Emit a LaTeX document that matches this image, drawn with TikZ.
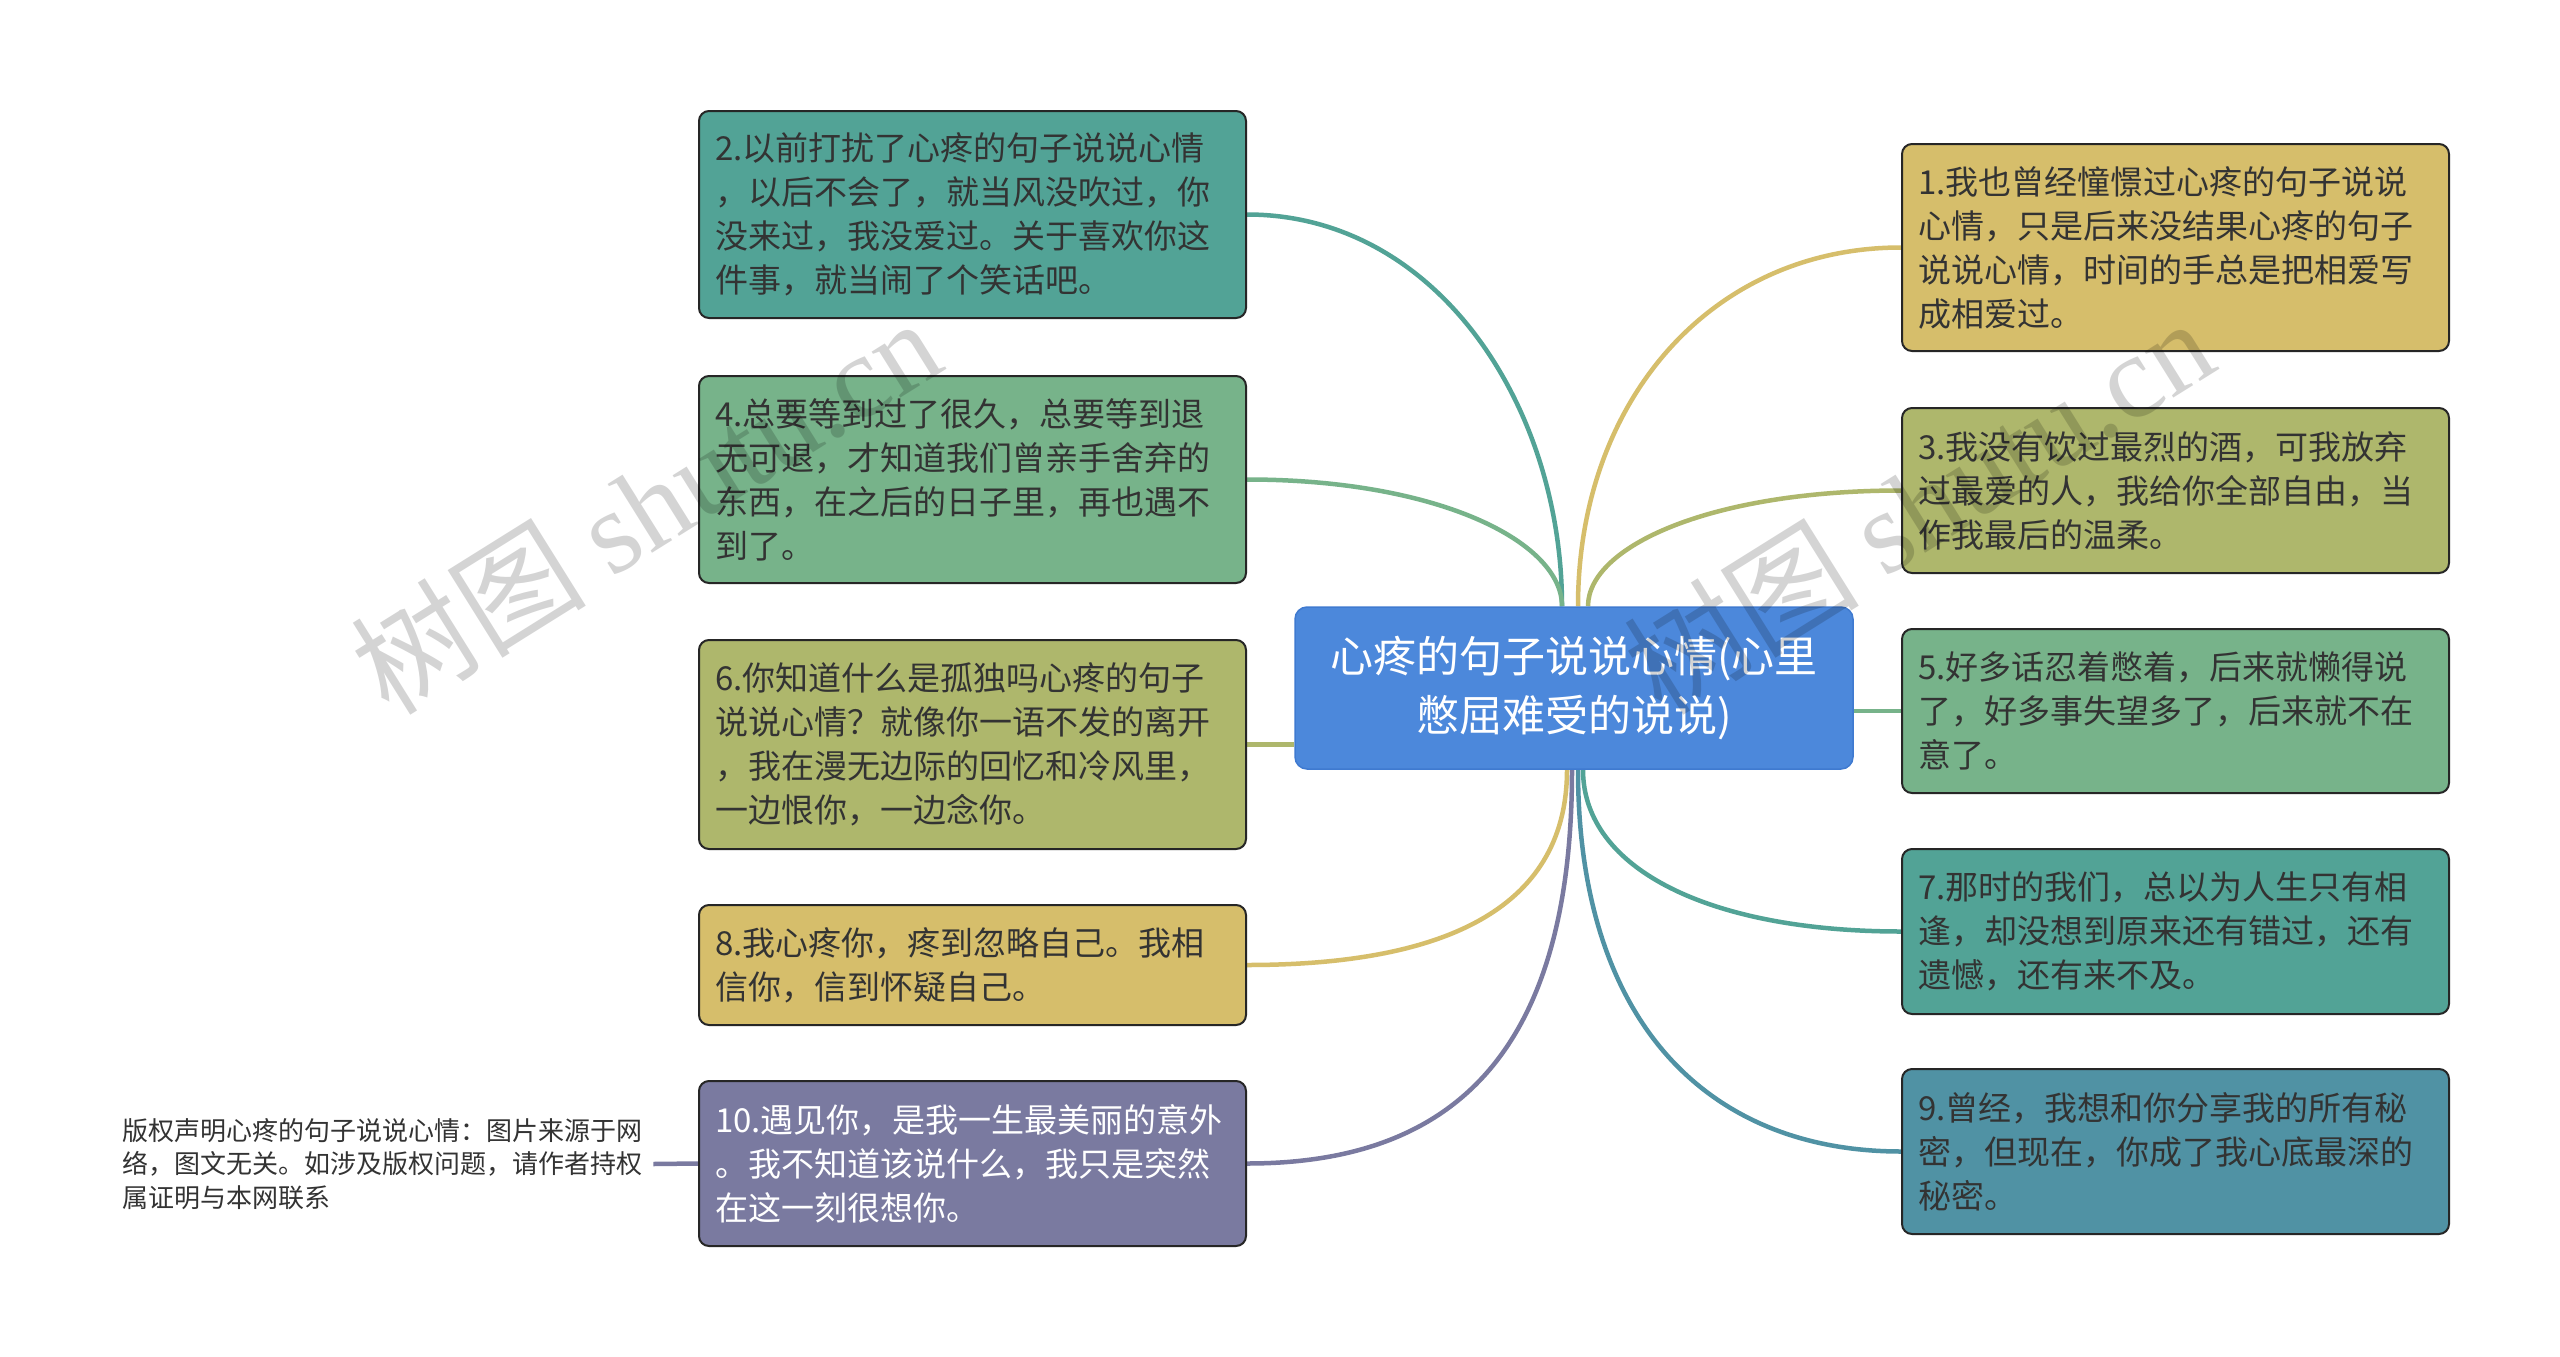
\documentclass[tikz,border=0pt]{standalone}
\usepackage{fontspec}
\setmainfont{Noto Sans CJK SC}
\newfontfamily\wmlatin{Liberation Serif}
\newfontfamily\wmcjk{Noto Sans CJK SC}
\usetikzlibrary{backgrounds}
\definecolor{cteal}{HTML}{52A396}
\definecolor{cgreen}{HTML}{77B38A}
\definecolor{colive}{HTML}{AEB76C}
\definecolor{cgold}{HTML}{D6BE6B}
\definecolor{cpurple}{HTML}{7A7AA0}
\definecolor{cblue}{HTML}{5092A4}
\definecolor{cmain}{HTML}{4C88DB}
\definecolor{cmainborder}{HTML}{3F7AD0}
\definecolor{ctext}{HTML}{333333}
\begin{document}
\begin{tikzpicture}[x=1pt,y=-1pt,
  leaf/.style={draw=black!85, line width=2pt, rounded corners=10pt,
    text width=515pt, inner xsep=16pt, inner ysep=0pt, minimum width=547pt,
    align=left, text=ctext, font=\fontsize{33}{44}\selectfont},
  conn/.style={line width=4.5pt},
  mainbox/.style={draw=cmainborder, line width=1.5pt, fill=cmain, rounded corners=12pt,
    text=white, minimum width=558pt, minimum height=162pt, text width=530pt,
    inner xsep=14pt, align=center, font=\fontsize{43}{59}\selectfont},
  wm/.style={rotate=32, text=black, text opacity=0.17, inner sep=0pt}
]
\useasboundingbox (0,0) rectangle (2560,1357);

% central
\node[mainbox] (ctr) at (1574,688) {心疼的句子说说心情(心里\\憋屈难受的说说)};

% left
\node[leaf, fill=cteal, minimum height=207pt] (n2) at (972.5,214.5)
  {2.以前打扰了心疼的句子说说心情\\，以后不会了，就当风没吹过，你\\没来过，我没爱过。关于喜欢你这\\件事，就当闹了个笑话吧。};
\node[leaf, fill=cgreen, minimum height=207pt] (n4) at (972.5,479.5)
  {4.总要等到过了很久，总要等到退\\无可退，才知道我们曾亲手舍弃的\\东西，在之后的日子里，再也遇不\\到了。};
\node[leaf, fill=colive, minimum height=209pt] (n6) at (972.5,744.5)
  {6.你知道什么是孤独吗心疼的句子\\说说心情？就像你一语不发的离开\\，我在漫无边际的回忆和冷风里，\\一边恨你，一边念你。};
\node[leaf, fill=cgold, minimum height=120pt] (n8) at (972.5,965)
  {8.我心疼你，疼到忽略自己。我相\\信你，信到怀疑自己。};
\node[leaf, fill=cpurple, minimum height=165pt, text=white] (n10) at (972.5,1163.5)
  {10.遇见你，是我一生最美丽的意外\\。我不知道该说什么，我只是突然\\在这一刻很想你。};

% right
\node[leaf, fill=cgold, minimum height=207pt] (n1) at (2175.5,247.5)
  {1.我也曾经憧憬过心疼的句子说说\\心情，只是后来没结果心疼的句子\\说说心情，时间的手总是把相爱写\\成相爱过。};
\node[leaf, fill=colive, minimum height=165pt] (n3) at (2175.5,490.5)
  {3.我没有饮过最烈的酒，可我放弃\\过最爱的人，我给你全部自由，当\\作我最后的温柔。};
\node[leaf, fill=cgreen, minimum height=164pt] (n5) at (2175.5,711)
  {5.好多话忍着憋着，后来就懒得说\\了，好多事失望多了，后来就不在\\意了。};
\node[leaf, fill=cteal, minimum height=165pt] (n7) at (2175.5,931.5)
  {7.那时的我们，总以为人生只有相\\逢，却没想到原来还有错过，还有\\遗憾，还有来不及。};
\node[leaf, fill=cblue, minimum height=165pt] (n9) at (2175.5,1151.5)
  {9.曾经，我想和你分享我的所有秘\\密，但现在，你成了我心底最深的\\秘密。};

% copyright note
\node[anchor=west, inner xsep=11pt, inner ysep=0pt, align=left, text=ctext,
  font=\fontsize{26}{33.5}\selectfont] (cp) at (111,1164)
  {版权声明心疼的句子说说心情：图片来源于网\\络，图文无关。如涉及版权问题，请作者持权\\属证明与本网联系};

\begin{scope}[on background layer]
\fill[white] (0,0) rectangle (2560,1357);
\draw[conn, cteal] (n2.east) .. controls +(190,0) and +(0,-200) .. ([xshift=-12pt]ctr.north);
\draw[conn, cgreen] (n4.east) .. controls +(190,0) and +(0,-65) .. ([xshift=-12pt]ctr.north);
\draw[conn, colive] (n6.east) -- (n6.east -| ctr.west);
\draw[conn, cgold] ([xshift=-7pt]ctr.south) .. controls +(0,143) and +(190,0) .. (n8.east);
\draw[conn, cpurple] ([xshift=-2pt]ctr.south) .. controls +(0,290) and +(200,0) .. (n10.east);
\draw[conn, cgold] ([xshift=4pt]ctr.north) .. controls +(0,-205) and +(-190,0) .. (n1.west);
\draw[conn, colive] ([xshift=14pt]ctr.north) .. controls +(0,-60) and +(-190,0) .. (n3.west);
\draw[conn, cgreen] (n5.west -| ctr.east) -- (n5.west);
\draw[conn, cteal] ([xshift=9pt]ctr.south) .. controls +(0,100) and +(-190,0) .. (n7.west);
\draw[conn, cblue] ([xshift=4pt]ctr.south) .. controls +(0,256) and +(-190,0) .. (n9.west);
\draw[conn, cpurple] (cp.east) -- (n10.west);
\end{scope}

% watermarks
\node[wm] (wm1) at (645,505) {\fontsize{118}{118}\selectfont\wmcjk 树图 \wmlatin shutu.cn};
\node[wm] (wm2) at (1918,505) {\fontsize{118}{118}\selectfont\wmcjk 树图 \wmlatin shutu.cn};
\end{tikzpicture}
\end{document}
